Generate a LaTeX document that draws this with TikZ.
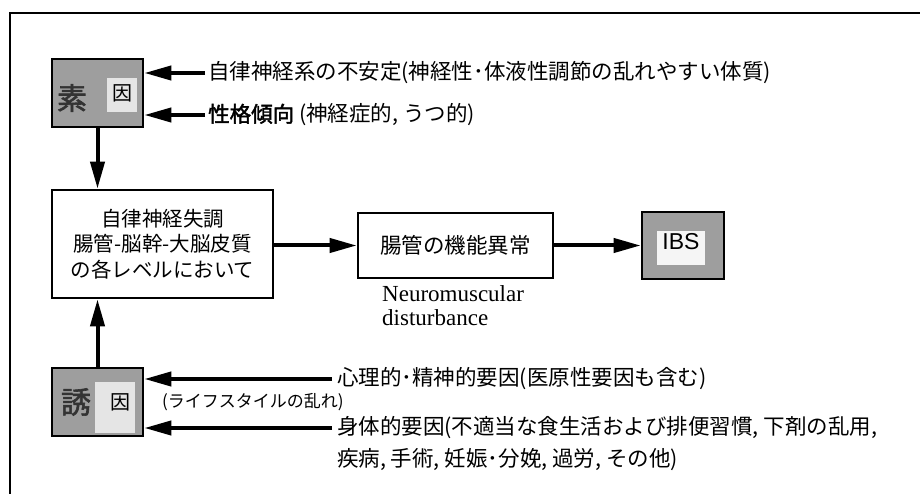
\documentclass[tikz,border=0pt]{standalone}
\usepackage{fontspec}
\setmainfont{Liberation Serif}
\newfontfamily\jp{Noto Sans CJK JP}
\newfontfamily\jpb[FakeBold=2]{Noto Sans CJK JP}
\newfontfamily\ibsfont{Liberation Sans}
\usetikzlibrary{arrows.meta}
\tikzset{
  box/.style={draw, line width=2.6pt, fill=white, inner sep=0pt},
  graybox/.style={draw, line width=2.6pt, fill=black!38, inner sep=0pt},
  patch/.style={fill=black!10, inner sep=0pt},
  arr/.style={line width=4pt, -{Triangle[length=27pt,width=14pt]}},
  jtext/.style={font=\jp\fontsize{21.5}{28}\selectfont, inner sep=0pt, anchor=west},
  bigchar/.style={font=\jpb\fontsize{30}{30}\selectfont, text=black!80, inner sep=0pt},
  smallchar/.style={font=\jp\fontsize{20}{20}\selectfont, inner sep=0pt},
  entext/.style={font=\fontsize{23}{24}\selectfont, inner sep=0pt, align=left, anchor=north west}
}
\begin{document}
\begin{tikzpicture}[x=1pt,y=-1pt]
\useasboundingbox (0,0) rectangle (920,494);
\fill[white] (0,0) rectangle (920,494);
\draw[line width=1.8pt] (10,494) -- (10,13) -- (920,13);

% predisposing factor box
\node[graybox, minimum width=91pt, minimum height=68pt] (soin) at (97.5,93) {};
\node[patch, minimum width=30pt, minimum height=34pt] (soinp) at (122,95) {};
\node[bigchar] (soinA) at (72,98) {素};
\node[smallchar] (soinB) at (122,93) {因};

% triggering factor box
\node[graybox, minimum width=91pt, minimum height=68pt] (yuin) at (97.5,402) {};
\node[patch, minimum width=40pt, minimum height=51pt] (yuinp) at (115,407.5) {};
\node[bigchar] (yuinA) at (76,402) {誘};
\node[smallchar] (yuinB) at (120,402) {因};

% main box
\node[box, minimum width=221pt, minimum height=108pt, align=center,
      font=\jp\fontsize{20.5}{25.5}\selectfont] (main) at (162.5,244)
      {自律神経失調\\腸管-脳幹-大脳皮質\\の各レベルにおいて};

% gut box
\node[box, minimum width=195pt, minimum height=65pt,
      font=\jp\fontsize{21.5}{26}\selectfont] (gut) at (455.5,245.5) {腸管の機能異常};
\node[entext] (nm) at (382,285.5) {Neuromuscular\\disturbance};

% IBS box
\node[graybox, minimum width=82pt, minimum height=67pt] (ibs) at (683,245.5) {};
\node[patch, fill=black!4, minimum width=48pt, minimum height=33pt] (ibsp) at (681,248) {};
\node[font=\ibsfont\fontsize{23}{23}\selectfont, inner sep=0pt] (ibst) at (681,242) {IBS};

% side texts
\node[jtext] (t1) at (208,73) {自律神経系の不安定(神経性･体液性調節の乱れやすい体質)};
\node[jtext] (t2) at (208,115) {{\jpb 性格傾向} (神経症的, うつ的)};
\node[jtext, font=\jp\fontsize{17}{17}\selectfont] (t3) at (162,402) {(ライフスタイルの乱れ)};
\node[jtext] (t4) at (337,379) {心理的･精神的要因(医原性要因も含む)};
\node[jtext] (t5) at (337,428) {身体的要因(不適当な食生活および排便習慣, 下剤の乱用,};
\node[jtext] (t6) at (337,460) {疾病, 手術, 妊娠･分娩, 過労, その他)};

% connectors
\draw[arr, shorten <=3pt] (t1.west) -- (t1.west -| soin.east);
\draw[arr, shorten <=3pt] (t2.west) -- (t2.west -| soin.east);
\draw[arr, shorten <=5pt] (t4.west) -- (t4.west -| yuin.east);
\draw[arr, shorten <=5pt] (t5.west) -- (t5.west -| yuin.east);
\draw[arr] (soin.south) -- (soin.south |- main.north);
\draw[arr] (yuin.north) -- (yuin.north |- main.south);
\draw[arr] (main.east |- gut.west) -- (gut.west);
\draw[arr] (gut.east) -- (ibs.west);
\end{tikzpicture}
\end{document}
